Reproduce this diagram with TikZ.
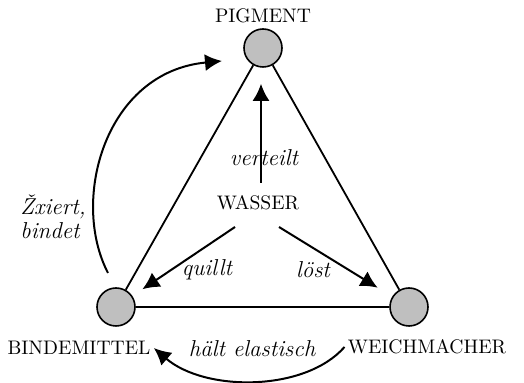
\documentclass[tikz,border=0pt]{standalone}
\usetikzlibrary{arrows.meta}
\begin{document}
\begin{tikzpicture}[x=0.5pt,y=-0.5pt,
  dot/.style={circle,draw,line width=0.8pt,fill=black!25,minimum size=19pt,inner sep=0pt},
  lab/.style={font=\fontsize{9.8}{12}\selectfont,inner sep=1.5pt},
  elab/.style={font=\fontsize{11.5}{13}\selectfont\itshape,inner sep=1pt},
  edge/.style={line width=0.9pt},
  arr/.style={line width=1pt,-{Latex[length=8.5pt,width=8.5pt]}}]
\useasboundingbox (0,0) rectangle (524,383);
% circles
\node[dot] (P) at (263,48) {};
\node[dot] (B) at (116,307) {};
\node[dot] (M) at (409,307) {};
% labels
\node[lab] (Pl) at (263,16) {PIGMENT};
\node[lab] (Bl) at (79,348) {BINDEMITTEL};
\node[lab] (Ml) at (427,347) {WEICHMACHER};
\node[lab] (W) at (258,203) {WASSER};
% triangle
\draw[edge] (P) -- (B);
\draw[edge] (P) -- (M);
\draw[edge] (B) -- (M);
% arrows from water
\coordinate (vs) at (261,183);
\coordinate (qs) at (235,227);
\coordinate (ls) at (279,227);
\draw[arr,shorten >=8pt] (vs) -- (vs |- P.south);
\draw[arr,shorten >=6pt] (qs) -- (B);
\draw[arr,shorten >=8.5pt] (ls) -- (M);
\node[elab] (vt) at (264,158) {verteilt};
\node[elab] (ql) at (207,270) {quillt};
\node[elab] (lo) at (313,270) {löst};
% left curved arrow
\coordinate (a1) at (108,273);
\coordinate (a2) at (222,61);
\draw[arr] (a1) .. controls (70,200) and (105,72) .. (a2);
\node[elab,align=left,anchor=west] (fx) at (18,217) {Žxiert,\\[-1pt]bindet};
% bottom curved arrow
\draw[arr] (Ml.west) .. controls (305,392) and (205,392) .. (Bl.east);
\node[elab] (he) at (252,349) {hält elastisch};
\end{tikzpicture}
\end{document}
